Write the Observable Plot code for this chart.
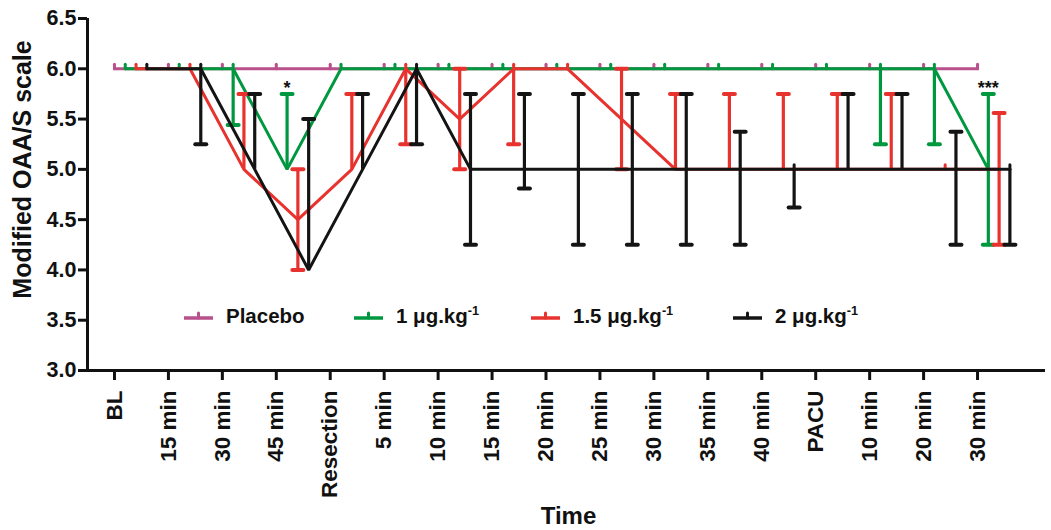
<!DOCTYPE html>
<html>
<head>
<meta charset="utf-8">
<script src="https://cdn.jsdelivr.net/npm/d3@7"></script>
<script src="https://cdn.jsdelivr.net/npm/@observablehq/plot@0.6"></script>
<style>
  html, body { margin: 0; padding: 0; background: #fff; }
  #wrap { position: relative; width: 1051px; height: 530px; font-family: "Liberation Sans", Arial, sans-serif; color: #111; }
  .leg { position: absolute; top: 304px; height: 24px; display: flex; align-items: center; font-size: 20.5px; font-weight: bold; white-space: nowrap; }
  .leg svg { margin-right: 13px; overflow: visible; }
  .leg sup { font-size: 0.62em; vertical-align: 0.62em; line-height: 0; }
</style>
</head>
<body>
<div id="wrap"></div>
<script>
// ---------- data ----------
const timeLabels = ["BL", "15 min", "30 min", "45 min", "Resection", "5 min", "10 min", "15 min", "20 min", "25 min", "30 min", "35 min", "40 min", "PACU", "10 min", "20 min", "30 min"];

const seriesNames = ["Placebo", "1 μg.kg^-1", "1.5 μg.kg^-1", "2 μg.kg^-1"];
const seriesColors = ["#b8508c", "#00983f", "#e8322e", "#141414"];

const placeboMedian = [6, 6, 6, 6, 6, 6, 6, 6, 6, 6, 6, 6, 6, 6, 6, 6, 6];
const placeboLow    = [6, 6, 6, 6, 6, 6, 6, 6, 6, 6, 6, 6, 6, 6, 6, 6, 6];
const placeboHigh   = [6, 6, 6, 6, 6, 6, 6, 6, 6, 6, 6, 6, 6, 6, 6, 6, 6];

const dose1Median = [6, 6, 6, 5, 6, 6, 6, 6, 6, 6, 6, 6, 6, 6, 6, 6, 5];
const dose1Low    = [6, 6, 5.44, 5, 6, 6, 6, 6, 6, 6, 6, 6, 6, 6, 5.25, 5.25, 4.25];
const dose1High   = [6, 6, 6, 5.75, 6, 6, 6, 6, 6, 6, 6, 6, 6, 6, 6, 6, 5.75];

const dose15Median = [6, 6, 5, 4.5, 5, 6, 5.5, 6, 6, 5.5, 5, 5, 5, 5, 5, 5, 5];
const dose15Low    = [6, 6, 5, 4, 5, 5.25, 5, 5.25, 6, 5, 5, 5, 5, 5, 5, 5, 4.25];
const dose15High   = [6, 6, 5.75, 5, 5.75, 6, 6, 6, 6, 6, 5.75, 5.75, 5.75, 5.75, 5.75, 5, 5.56];

const dose2Median = [6, 6, 5, 4, 5, 6, 5, 5, 5, 5, 5, 5, 5, 5, 5, 5, 5];
const dose2Low    = [6, 5.25, 5, 4, 5, 5.25, 4.25, 4.81, 4.25, 4.25, 4.25, 4.25, 4.62, 5, 5, 4.25, 4.25];
const dose2High   = [6, 6, 5.75, 5.5, 5.75, 6, 5.75, 5.75, 5.75, 5.75, 5.75, 5.375, 5, 5.75, 5.75, 5.375, 5];

const yTicks = [3.0, 3.5, 4.0, 4.5, 5.0, 5.5, 6.0, 6.5];

const annotSeries = [1, 1];
const annotIndex  = [3, 16];
const annotText   = ["*", "***"];

const yLabel = "Modified OAA/S scale";
const xLabel = "Time";

// ---------- build table ----------
const medians = [placeboMedian, dose1Median, dose15Median, dose2Median];
const lows    = [placeboLow, dose1Low, dose15Low, dose2Low];
const highs   = [placeboHigh, dose1High, dose15High, dose2High];
const dodge = 0.2; // horizontal offset between groups (in category units)

const table = [];
seriesNames.forEach((name, s) => {
  medians[s].forEach((m, i) => {
    table.push({s, name, i, t: i + s * dodge, mean: m, lo: lows[s][i], hi: highs[s][i]});
  });
});

const annots = annotText.map((txt, k) => {
  const row = table.find(d => d.s === annotSeries[k] && d.i === annotIndex[k]);
  return {t: row.t, y: row.hi, txt};
});

const capSymbol = {draw(ctx) { ctx.moveTo(-5.5, 0); ctx.lineTo(5.5, 0); }};
const upSymbol  = {draw(ctx) { ctx.moveTo(0, 0); ctx.lineTo(0, -4.5); }};

const marks = [];
seriesNames.forEach((name, s) => {
  const rows = table.filter(d => d.s === s);
  const c = seriesColors[s];
  marks.push(Plot.line(rows, {x: "t", y: "mean", stroke: c, strokeWidth: 3, strokeLinejoin: "miter"}));
  marks.push(Plot.ruleX(rows.filter(d => d.hi > d.lo), {x: "t", y1: "lo", y2: "hi", stroke: c, strokeWidth: 3.2}));
  marks.push(Plot.dot(rows.filter(d => d.hi > d.mean), {x: "t", y: "hi", r: 3, symbol: capSymbol, fill: "none", stroke: c, strokeWidth: 4, strokeLinecap: "round"}));
  marks.push(Plot.dot(rows.filter(d => d.lo < d.mean), {x: "t", y: "lo", r: 3, symbol: capSymbol, fill: "none", stroke: c, strokeWidth: 4, strokeLinecap: "round"}));
  marks.push(Plot.dot(rows.filter(d => d.hi === d.mean), {x: "t", y: "mean", r: 3, symbol: upSymbol, fill: "none", stroke: c, strokeWidth: 3, strokeLinecap: "round"}));
});

const xDomain = [-0.5, 17.26];
const yDomain = [3, 6.5];

const W = 1051, H = 530;
const chart = Plot.plot({
  width: W,
  height: H,
  marginLeft: 87,
  marginRight: 6,
  marginTop: 18,
  marginBottom: 160,
  style: {fontFamily: "'Liberation Sans', Arial, sans-serif", color: "#111", background: "#fff", overflow: "visible"},
  x: {domain: xDomain},
  y: {domain: yDomain},
  marks: [
    Plot.axisY({ticks: yTicks, tickFormat: d3.format(".1f"), tickSize: 9, tickPadding: 2, strokeWidth: 3, fontSize: 21.5, fontWeight: "bold", label: null}),
    Plot.axisX({ticks: d3.range(timeLabels.length), tickFormat: i => timeLabels[i], tickRotate: -90, tickSize: 10, tickPadding: 10, strokeWidth: 3, fontSize: 22.5, fontWeight: "bold", label: null}),
    Plot.ruleX([xDomain[0]], {stroke: "#111", strokeWidth: 3}),
    Plot.ruleY([yDomain[0]], {stroke: "#111", strokeWidth: 3}),
    ...marks,
    Plot.text(annots, {x: "t", y: "y", text: "txt", dy: -6, fontSize: 18, fontWeight: "bold", fill: "#111"}),
    Plot.text([yLabel], {frameAnchor: "left", textAnchor: "middle", rotate: -90, dx: -65, dy: -25, fontSize: 25, fontWeight: "bold"}),
    Plot.text([xLabel], {frameAnchor: "bottom", textAnchor: "middle", dx: 2, dy: 153, fontSize: 24, fontWeight: "bold"})
  ]
});

const wrap = document.getElementById("wrap");
wrap.appendChild(chart);

// ---------- legend (inside plot area) ----------
const legendLeft = [184, 354, 531, 733];
seriesNames.forEach((name, s) => {
  const item = document.createElement("div");
  item.className = "leg";
  item.style.left = legendLeft[s] + "px";
  const c = seriesColors[s];
  const parts = name.split("^");
  item.innerHTML =
    `<svg width="29" height="12"><line x1="0" x2="29" y1="8" y2="8" stroke="${c}" stroke-width="3.5"/>` +
    `<line x1="14.5" x2="14.5" y1="8" y2="3" stroke="${c}" stroke-width="3" stroke-linecap="round"/></svg>` +
    `<span>${parts[0]}${parts[1] ? `<sup>${parts[1]}</sup>` : ""}</span>`;
  wrap.appendChild(item);
});
</script>
</body>
</html>
